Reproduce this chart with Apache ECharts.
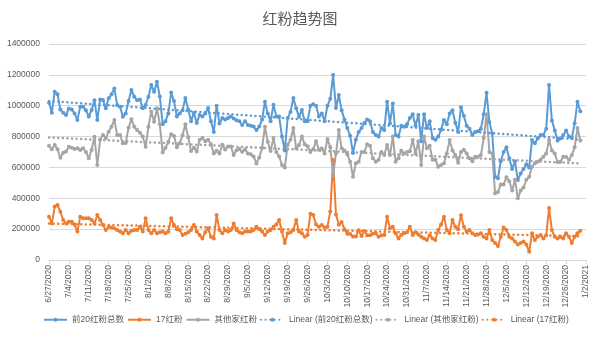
<!DOCTYPE html>
<html><head><meta charset="utf-8">
<script src="https://cdn.jsdelivr.net/npm/echarts@6/dist/echarts.min.js"></script>
<style>html,body{margin:0;padding:0;background:#fff}#c{width:600px;height:339px}</style>
</head><body><div id="c"></div>
<script>
const startDate = [2020, 6, 27];
const dayCount = 190;
const yTicks = {min: 0, max: 1400000, interval: 200000};
const nameTotal = '前20红粉总数', name17 = '17红粉', nameOther = '其他家红粉';

const total = [1020000,955000,1091000,1075000,975000,955000,940000,982000,975000,950000,908000,994000,994000,970000,930000,973000,1036000,907000,1040000,1037000,984000,1048000,1074000,1112000,1004000,994000,929000,950000,1030000,1102000,1058000,1036000,1040000,984000,1004000,1058000,1134000,1090000,1156000,1060000,880000,900000,950000,1085000,1030000,930000,950000,970000,1050000,975000,900000,955000,888000,940000,930000,950000,985000,900000,830000,1000000,884000,920000,910000,920000,930000,917000,905000,900000,875000,900000,875000,870000,865000,842000,865000,910000,1026000,950000,900000,1006000,930000,930000,800000,710000,920000,960000,1050000,983000,929000,973000,900000,900000,1000000,1010000,1000000,930000,950000,900000,1000000,1045000,1199000,985000,1070000,970000,910000,855000,805000,693000,780000,830000,855000,888000,910000,900000,830000,810000,800000,855000,842000,1026000,885000,1015000,810000,800000,870000,863000,880000,920000,945000,870000,940000,770000,945000,855000,900000,790000,780000,800000,845000,908000,880000,950000,970000,890000,830000,990000,935000,870000,850000,810000,830000,835000,850000,945000,1084000,894000,820000,540000,530000,640000,700000,730000,660000,590000,640000,518000,560000,590000,620000,600000,778000,757000,787000,810000,810000,850000,1134000,904000,840000,775000,787000,810000,840000,800000,790000,886000,1026000,964000];

const other = [740000,718000,745000,718000,662000,695000,703000,734000,727000,720000,724000,713000,724000,700000,660000,713000,799000,616000,781000,810000,790000,832000,864000,907000,810000,810000,756000,758000,857000,912000,864000,842000,824000,800000,734000,864000,961000,896000,983000,880000,696000,727000,766000,815000,803000,730000,756000,808000,880000,795000,706000,728000,704000,778000,790000,770000,780000,750000,690000,708000,690000,747000,716000,736000,736000,680000,711000,720000,702000,716000,691000,686000,671000,626000,665000,726000,864000,766000,706000,790000,700000,671000,616000,600000,747000,780000,855000,724000,745000,800000,750000,738000,700000,718000,770000,714000,723000,690000,785000,730000,551000,690000,842000,724000,710000,685000,637000,540000,627000,637000,700000,700000,750000,740000,660000,637000,650000,700000,680000,745000,680000,800000,637000,660000,708000,690000,700000,705000,778000,690000,770000,616000,800000,725000,740000,650000,650000,605000,615000,627000,690000,778000,710000,680000,630000,700000,715000,690000,660000,640000,670000,670000,680000,790000,945000,700000,690000,432000,440000,490000,490000,536000,510000,450000,520000,400000,450000,470000,520000,540000,605000,627000,637000,650000,670000,690000,778000,710000,690000,635000,637000,670000,667000,650000,680000,730000,855000,775000];

const s17 = [280000,237000,346000,357000,313000,260000,237000,248000,248000,230000,184000,281000,270000,270000,270000,260000,237000,291000,259000,227000,194000,216000,210000,205000,194000,184000,173000,194000,173000,190000,194000,194000,216000,184000,270000,194000,173000,194000,173000,180000,184000,173000,184000,270000,227000,200000,194000,162000,170000,180000,194000,227000,184000,162000,140000,180000,205000,150000,140000,292000,194000,173000,194000,184000,194000,237000,194000,180000,173000,184000,184000,184000,194000,216000,200000,184000,162000,184000,194000,216000,230000,259000,184000,110000,173000,180000,194000,259000,184000,173000,150000,162000,300000,292000,230000,216000,227000,210000,215000,315000,648000,295000,228000,246000,200000,170000,168000,153000,153000,193000,155000,188000,160000,160000,170000,173000,150000,160000,162000,281000,205000,216000,173000,140000,162000,173000,180000,215000,162000,180000,165000,150000,140000,130000,160000,140000,130000,194000,230000,281000,194000,173000,259000,216000,200000,290000,216000,184000,194000,173000,162000,165000,173000,150000,140000,194000,130000,110000,90000,150000,210000,194000,150000,140000,120000,100000,110000,120000,100000,54000,173000,130000,150000,162000,140000,160000,337000,194000,150000,140000,150000,140000,173000,150000,110000,150000,173000,190000];

// category labels (dates)
const dates = [];
for (let i = 0; i < dayCount; i++) {
  const d = new Date(startDate[0], startDate[1] - 1, startDate[2] + i);
  dates.push((d.getMonth() + 1) + '/' + d.getDate() + '/' + d.getFullYear());
}

// least-squares linear trendline (as Excel "Linear" trendline)
function trend(arr) {
  const n = arr.length;
  let sx = 0, sy = 0, sxx = 0, sxy = 0;
  arr.forEach((v, i) => { sx += i; sy += v; sxx += i * i; sxy += i * v; });
  const b = (n * sxy - sx * sy) / (n * sxx - sx * sx);
  const a = (sy - b * sx) / n;
  return [[dates[0], a], [dates[n - 1], a + b * (n - 1)]];
}

const BLUE = '#5B9BD5', ORANGE = '#ED7D31', GRAY = '#A5A5A5';
const FONT = '"Liberation Sans", "Noto Sans CJK SC", sans-serif';

function dataSeries(name, data, color) {
  return {
    name, type: 'line', data, symbol: 'circle', symbolSize: 4,
    showSymbol: true, showAllSymbol: true, animation: false,
    lineStyle: {color, width: 2, join: 'round'},
    itemStyle: {color}
  };
}
function trendSeries(name, data, color) {
  return {
    name, type: 'line', data: trend(data), symbol: 'none', animation: false,
    lineStyle: {color, width: 2.5, type: [0.1, 4.5], cap: 'round'},
    itemStyle: {color}, z: 3
  };
}

const chart = echarts.init(document.getElementById('c'), null, {renderer: 'canvas'});
chart.setOption({
  backgroundColor: '#fff',
  textStyle: {fontFamily: FONT},
  title: {
    text: '红粉趋势图', left: 'center', top: 7,
    textStyle: {fontSize: 15, fontWeight: 'normal', color: '#595959', fontFamily: FONT}
  },
  legend: {
    bottom: 10, left: 38, width: 560, itemWidth: 23, itemHeight: 5, itemGap: 3,
    textStyle: {fontSize: 8.5, color: '#595959', fontFamily: FONT},
    data: [nameTotal, name17, nameOther, 'Linear (' + nameTotal + ')', 'Linear (' + nameOther + ')', 'Linear (' + name17 + ')']
  },
  grid: {left: 49, right: 14, top: 44, bottom: 79},
  xAxis: {
    type: 'category', data: dates, boundaryGap: false,
    axisLine: {lineStyle: {color: '#D9D9D9'}},
    axisTick: {show: true, interval: 6, length: 4, lineStyle: {color: '#D9D9D9'}},
    axisLabel: {interval: 6, rotate: 90, fontSize: 8.5, color: '#595959', margin: 5, fontFamily: FONT},
    splitLine: {show: false}
  },
  yAxis: {
    type: 'value', min: yTicks.min, max: yTicks.max, interval: yTicks.interval,
    axisLine: {show: false}, axisTick: {show: false},
    axisLabel: {fontSize: 8.5, color: '#595959', margin: 9, fontFamily: FONT, formatter: v => String(v)},
    splitLine: {lineStyle: {color: '#D9D9D9', width: 1}}
  },
  series: [
    dataSeries(nameTotal, total, BLUE),
    dataSeries(name17, s17, ORANGE),
    dataSeries(nameOther, other, GRAY),
    trendSeries('Linear (' + nameTotal + ')', total, BLUE),
    trendSeries('Linear (' + nameOther + ')', other, GRAY),
    trendSeries('Linear (' + name17 + ')', s17, ORANGE)
  ]
});
</script>
</body></html>
